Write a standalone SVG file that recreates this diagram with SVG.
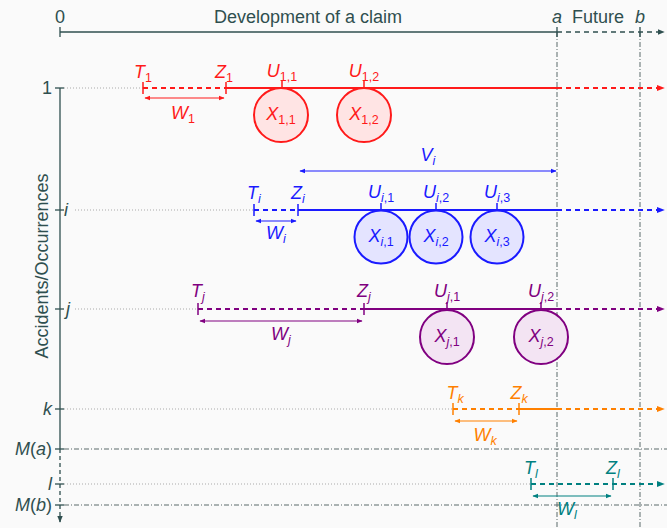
<svg xmlns="http://www.w3.org/2000/svg" width="667" height="528" viewBox="0 0 667 528">
<style>
text{font-family:"Liberation Sans","DejaVu Sans",sans-serif;font-size:18px}
.it{font-style:italic}
.sub{font-size:12.5px;font-style:normal}
.subi{font-size:12.5px;font-style:italic}
.ax{stroke:#2f4f4f;stroke-width:1.3;fill:none}
.dd{stroke:#5a6a6a;stroke-width:1;stroke-dasharray:5 2 1 2;fill:none}
.dot{stroke:#aaa;stroke-width:1;stroke-dasharray:1 2;fill:none}
.sol{stroke-width:2;fill:none}
.dsh{stroke-width:2;fill:none;stroke-dasharray:5 4}
.tk{stroke-width:1.5;fill:none}
.thin{stroke-width:1;fill:none}
.red{stroke:#ff1a1a}.blue{stroke:#1a1aff}.pur{stroke:#800080}.ora{stroke:#ff8000}.teal{stroke:#008080}
</style>
<defs>
<marker id="aG" viewBox="0 0 10 10" refX="9" refY="5" markerWidth="7" markerHeight="7" markerUnits="userSpaceOnUse" orient="auto-start-reverse"><path d="M0,1 L10,5 L0,9z" fill="#2f4f4f"/></marker>
<marker id="aR" viewBox="0 0 10 10" refX="9" refY="5" markerWidth="8" markerHeight="8" markerUnits="userSpaceOnUse" orient="auto-start-reverse"><path d="M0,1 L10,5 L0,9z" fill="#ff1a1a"/></marker>
<marker id="aB" viewBox="0 0 10 10" refX="9" refY="5" markerWidth="8" markerHeight="8" markerUnits="userSpaceOnUse" orient="auto-start-reverse"><path d="M0,1 L10,5 L0,9z" fill="#1a1aff"/></marker>
<marker id="aP" viewBox="0 0 10 10" refX="9" refY="5" markerWidth="8" markerHeight="8" markerUnits="userSpaceOnUse" orient="auto-start-reverse"><path d="M0,1 L10,5 L0,9z" fill="#800080"/></marker>
<marker id="aO" viewBox="0 0 10 10" refX="9" refY="5" markerWidth="8" markerHeight="8" markerUnits="userSpaceOnUse" orient="auto-start-reverse"><path d="M0,1 L10,5 L0,9z" fill="#ff8000"/></marker>
<marker id="aT" viewBox="0 0 10 10" refX="9" refY="5" markerWidth="8" markerHeight="8" markerUnits="userSpaceOnUse" orient="auto-start-reverse"><path d="M0,1 L10,5 L0,9z" fill="#008080"/></marker>
<marker id="sR" viewBox="0 0 10 10" refX="9" refY="5" markerWidth="6" markerHeight="6" markerUnits="userSpaceOnUse" orient="auto-start-reverse"><path d="M0,1 L10,5 L0,9z" fill="#ff1a1a"/></marker>
<marker id="sB" viewBox="0 0 10 10" refX="9" refY="5" markerWidth="6" markerHeight="6" markerUnits="userSpaceOnUse" orient="auto-start-reverse"><path d="M0,1 L10,5 L0,9z" fill="#1a1aff"/></marker>
<marker id="sP" viewBox="0 0 10 10" refX="9" refY="5" markerWidth="6" markerHeight="6" markerUnits="userSpaceOnUse" orient="auto-start-reverse"><path d="M0,1 L10,5 L0,9z" fill="#800080"/></marker>
<marker id="sO" viewBox="0 0 10 10" refX="9" refY="5" markerWidth="6" markerHeight="6" markerUnits="userSpaceOnUse" orient="auto-start-reverse"><path d="M0,1 L10,5 L0,9z" fill="#ff8000"/></marker>
<marker id="sT" viewBox="0 0 10 10" refX="9" refY="5" markerWidth="6" markerHeight="6" markerUnits="userSpaceOnUse" orient="auto-start-reverse"><path d="M0,1 L10,5 L0,9z" fill="#008080"/></marker>
</defs>
<rect width="667" height="528" fill="#fafafa"/>

<g id="axes">
<line class="dd" x1="557" y1="32" x2="557" y2="528"/>
<line class="dd" x1="640" y1="32" x2="640" y2="528"/>
<line class="ax" x1="60" y1="32" x2="557" y2="32"/>
<line class="ax" x1="557" y1="32" x2="664" y2="32" stroke-dasharray="5 4" marker-end="url(#aG)"/>
<line class="ax" x1="60" y1="27" x2="60" y2="37"/>
<line class="ax" x1="557" y1="27" x2="557" y2="37"/>
<line class="ax" x1="640" y1="27" x2="640" y2="37"/>
<text x="60" y="23" text-anchor="middle" fill="#2f4f4f">0</text>
<text x="308" y="23" text-anchor="middle" fill="#2f4f4f">Development of a claim</text>
<text x="557" y="23" text-anchor="middle" class="it" fill="#2f4f4f">a</text>
<text x="598" y="23" text-anchor="middle" fill="#2f4f4f">Future</text>
<text x="640" y="23" text-anchor="middle" class="it" fill="#2f4f4f">b</text>

<line class="ax" x1="60" y1="88" x2="60" y2="449"/>
<line class="ax" x1="60" y1="449" x2="60" y2="522" stroke-dasharray="4 3" marker-end="url(#aG)"/>
<g class="ax">
<line x1="55" y1="88" x2="64" y2="88"/>
<line x1="55" y1="210" x2="64" y2="210"/>
<line x1="55" y1="309" x2="64" y2="309"/>
<line x1="55" y1="409" x2="64" y2="409"/>
<line x1="55" y1="449" x2="64" y2="449"/>
<line x1="55" y1="484" x2="64" y2="484"/>
<line x1="55" y1="505" x2="64" y2="505"/>
</g>
<line class="dd" x1="64" y1="449" x2="667" y2="449"/>
<line class="dd" x1="64" y1="505" x2="667" y2="505"/>
<g fill="#2f4f4f">
<text x="52" y="94" text-anchor="end">1</text>
<text x="64" y="216" class="it">i</text>
<text x="66" y="315" class="it">j</text>
<text x="52" y="415" text-anchor="end" class="it">k</text>
<text x="52" y="455" text-anchor="end"><tspan class="it">M</tspan>(<tspan class="it">a</tspan>)</text>
<text x="52" y="490" text-anchor="end" class="it">l</text>
<text x="52" y="511" text-anchor="end"><tspan class="it">M</tspan>(<tspan class="it">b</tspan>)</text>
<text transform="translate(48,266) rotate(-90)" text-anchor="middle">Accidents/Occurrences</text>
</g>
</g>

<g id="connectors">
<line class="dot" x1="64" y1="88" x2="143" y2="88"/>
<line class="dot" x1="75" y1="210" x2="254" y2="210"/>
<line class="dot" x1="75" y1="309" x2="198" y2="309"/>
<line class="dot" x1="64" y1="409" x2="453" y2="409"/>
<line class="dot" x1="64" y1="484" x2="531" y2="484"/>
</g>

<g id="row-1" fill="#ff1a1a">
<line class="dsh red" x1="143" y1="88" x2="226" y2="88"/>
<line class="sol red" x1="226" y1="88" x2="557" y2="88"/>
<line class="dsh red" x1="557" y1="88" x2="664" y2="88" marker-end="url(#aR)"/>
<line class="tk red" x1="143" y1="82" x2="143" y2="94"/>
<line class="tk red" x1="226" y1="82" x2="226" y2="94"/>
<line class="tk red" x1="282" y1="81" x2="282" y2="88"/>
<line class="tk red" x1="364" y1="81" x2="364" y2="88"/>
<line class="thin red" x1="145" y1="98" x2="224" y2="98" marker-start="url(#sR)" marker-end="url(#sR)"/>
<text x="143" y="78" text-anchor="middle"><tspan class="it">T</tspan><tspan class="sub" dy="4">1</tspan></text>
<text x="224" y="78" text-anchor="middle"><tspan class="it">Z</tspan><tspan class="sub" dy="4">1</tspan></text>
<text x="282" y="77" text-anchor="middle"><tspan class="it">U</tspan><tspan class="sub" dy="4">1,1</tspan></text>
<text x="364" y="77" text-anchor="middle"><tspan class="it">U</tspan><tspan class="sub" dy="4">1,2</tspan></text>
<text x="183" y="119" text-anchor="middle"><tspan class="it">W</tspan><tspan class="sub" dy="4">1</tspan></text>
</g>
<g id="X11"><circle cx="281" cy="115" r="27" fill="#ffe4e4" stroke="#ff1a1a" stroke-width="2"/><text x="281" y="120" text-anchor="middle" fill="#ff1a1a"><tspan class="it">X</tspan><tspan class="sub" dy="4">1,1</tspan></text></g>
<g id="X12"><circle cx="364" cy="115" r="27" fill="#ffe4e4" stroke="#ff1a1a" stroke-width="2"/><text x="364" y="120" text-anchor="middle" fill="#ff1a1a"><tspan class="it">X</tspan><tspan class="sub" dy="4">1,2</tspan></text></g>

<g id="row-i" fill="#1a1aff">
<line class="dsh blue" x1="254" y1="210" x2="298" y2="210"/>
<line class="sol blue" x1="298" y1="210" x2="557" y2="210"/>
<line class="dsh blue" x1="557" y1="210" x2="664" y2="210" marker-end="url(#aB)"/>
<line class="tk blue" x1="254" y1="204" x2="254" y2="216"/>
<line class="tk blue" x1="298" y1="204" x2="298" y2="216"/>
<line class="tk blue" x1="381" y1="203" x2="381" y2="210"/>
<line class="tk blue" x1="436" y1="203" x2="436" y2="210"/>
<line class="tk blue" x1="497" y1="203" x2="497" y2="210"/>
<line class="thin blue" x1="256" y1="221" x2="296" y2="221" marker-start="url(#sB)" marker-end="url(#sB)"/>
<line class="thin blue" x1="300" y1="171" x2="556" y2="171" marker-start="url(#sB)" marker-end="url(#sB)"/>
<text x="254" y="199" text-anchor="middle"><tspan class="it">T</tspan><tspan class="subi" dy="4">i</tspan></text>
<text x="298" y="199" text-anchor="middle"><tspan class="it">Z</tspan><tspan class="subi" dy="4">i</tspan></text>
<text x="381" y="198" text-anchor="middle"><tspan class="it">U</tspan><tspan class="subi" dy="4">i</tspan><tspan class="sub">,1</tspan></text>
<text x="436" y="198" text-anchor="middle"><tspan class="it">U</tspan><tspan class="subi" dy="4">i</tspan><tspan class="sub">,2</tspan></text>
<text x="497" y="198" text-anchor="middle"><tspan class="it">U</tspan><tspan class="subi" dy="4">i</tspan><tspan class="sub">,3</tspan></text>
<text x="276" y="239" text-anchor="middle"><tspan class="it">W</tspan><tspan class="subi" dy="4">i</tspan></text>
<text x="428" y="161" text-anchor="middle"><tspan class="it">V</tspan><tspan class="subi" dy="4">i</tspan></text>
</g>
<g id="Xi1"><circle cx="381" cy="237" r="26.5" fill="#e4e4ff" stroke="#1a1aff" stroke-width="2"/><text x="381" y="242" text-anchor="middle" fill="#1a1aff"><tspan class="it">X</tspan><tspan class="subi" dy="4">i</tspan><tspan class="sub">,1</tspan></text></g>
<g id="Xi2"><circle cx="436" cy="237" r="26.5" fill="#e4e4ff" stroke="#1a1aff" stroke-width="2"/><text x="436" y="242" text-anchor="middle" fill="#1a1aff"><tspan class="it">X</tspan><tspan class="subi" dy="4">i</tspan><tspan class="sub">,2</tspan></text></g>
<g id="Xi3"><circle cx="497" cy="237" r="26.5" fill="#e4e4ff" stroke="#1a1aff" stroke-width="2"/><text x="497" y="242" text-anchor="middle" fill="#1a1aff"><tspan class="it">X</tspan><tspan class="subi" dy="4">i</tspan><tspan class="sub">,3</tspan></text></g>

<g id="row-j" fill="#800080">
<line class="dsh pur" x1="198" y1="309" x2="364" y2="309"/>
<line class="sol pur" x1="364" y1="309" x2="557" y2="309"/>
<line class="dsh pur" x1="557" y1="309" x2="664" y2="309" marker-end="url(#aP)"/>
<line class="tk pur" x1="198" y1="303" x2="198" y2="315"/>
<line class="tk pur" x1="364" y1="303" x2="364" y2="315"/>
<line class="tk pur" x1="447" y1="302" x2="447" y2="309"/>
<line class="tk pur" x1="541" y1="302" x2="541" y2="309"/>
<line class="thin pur" x1="200" y1="321" x2="362" y2="321" marker-start="url(#sP)" marker-end="url(#sP)"/>
<text x="198" y="297" text-anchor="middle"><tspan class="it">T</tspan><tspan class="subi" dy="4">j</tspan></text>
<text x="364" y="297" text-anchor="middle"><tspan class="it">Z</tspan><tspan class="subi" dy="4">j</tspan></text>
<text x="447" y="297" text-anchor="middle"><tspan class="it">U</tspan><tspan class="subi" dy="4">j</tspan><tspan class="sub">,1</tspan></text>
<text x="541" y="297" text-anchor="middle"><tspan class="it">U</tspan><tspan class="subi" dy="4">j</tspan><tspan class="sub">,2</tspan></text>
<text x="281" y="340" text-anchor="middle"><tspan class="it">W</tspan><tspan class="subi" dy="4">j</tspan></text>
</g>
<g id="Xj1"><circle cx="447" cy="337" r="27" fill="#f3e4f3" stroke="#800080" stroke-width="2"/><text x="447" y="342" text-anchor="middle" fill="#800080"><tspan class="it">X</tspan><tspan class="subi" dy="4">j</tspan><tspan class="sub">,1</tspan></text></g>
<g id="Xj2"><circle cx="541" cy="337" r="27" fill="#f3e4f3" stroke="#800080" stroke-width="2"/><text x="541" y="342" text-anchor="middle" fill="#800080"><tspan class="it">X</tspan><tspan class="subi" dy="4">j</tspan><tspan class="sub">,2</tspan></text></g>

<g id="row-k" fill="#ff8000">
<line class="dsh ora" x1="453" y1="409" x2="519" y2="409"/>
<line class="sol ora" x1="519" y1="409" x2="557" y2="409"/>
<line class="dsh ora" x1="557" y1="409" x2="664" y2="409" marker-end="url(#aO)"/>
<line class="tk ora" x1="453" y1="403" x2="453" y2="415"/>
<line class="tk ora" x1="519" y1="403" x2="519" y2="415"/>
<line class="thin ora" x1="455" y1="421" x2="517" y2="421" marker-start="url(#sO)" marker-end="url(#sO)"/>
<text x="455" y="399" text-anchor="middle"><tspan class="it">T</tspan><tspan class="subi" dy="4">k</tspan></text>
<text x="519" y="399" text-anchor="middle"><tspan class="it">Z</tspan><tspan class="subi" dy="4">k</tspan></text>
<text x="485" y="441" text-anchor="middle"><tspan class="it">W</tspan><tspan class="subi" dy="4">k</tspan></text>
</g>

<g id="row-l" fill="#008080">
<line class="dsh teal" x1="531" y1="484" x2="664" y2="484" marker-end="url(#aT)"/>
<line class="tk teal" x1="531" y1="478" x2="531" y2="490"/>
<line class="tk teal" x1="613" y1="478" x2="613" y2="490"/>
<line class="thin teal" x1="533" y1="496" x2="611" y2="496" marker-start="url(#sT)" marker-end="url(#sT)"/>
<text x="531" y="474" text-anchor="middle"><tspan class="it">T</tspan><tspan class="subi" dy="4">l</tspan></text>
<text x="613" y="474" text-anchor="middle"><tspan class="it">Z</tspan><tspan class="subi" dy="4">l</tspan></text>
<text x="567" y="515" text-anchor="middle"><tspan class="it">W</tspan><tspan class="subi" dy="4">l</tspan></text>
</g>
</svg>
